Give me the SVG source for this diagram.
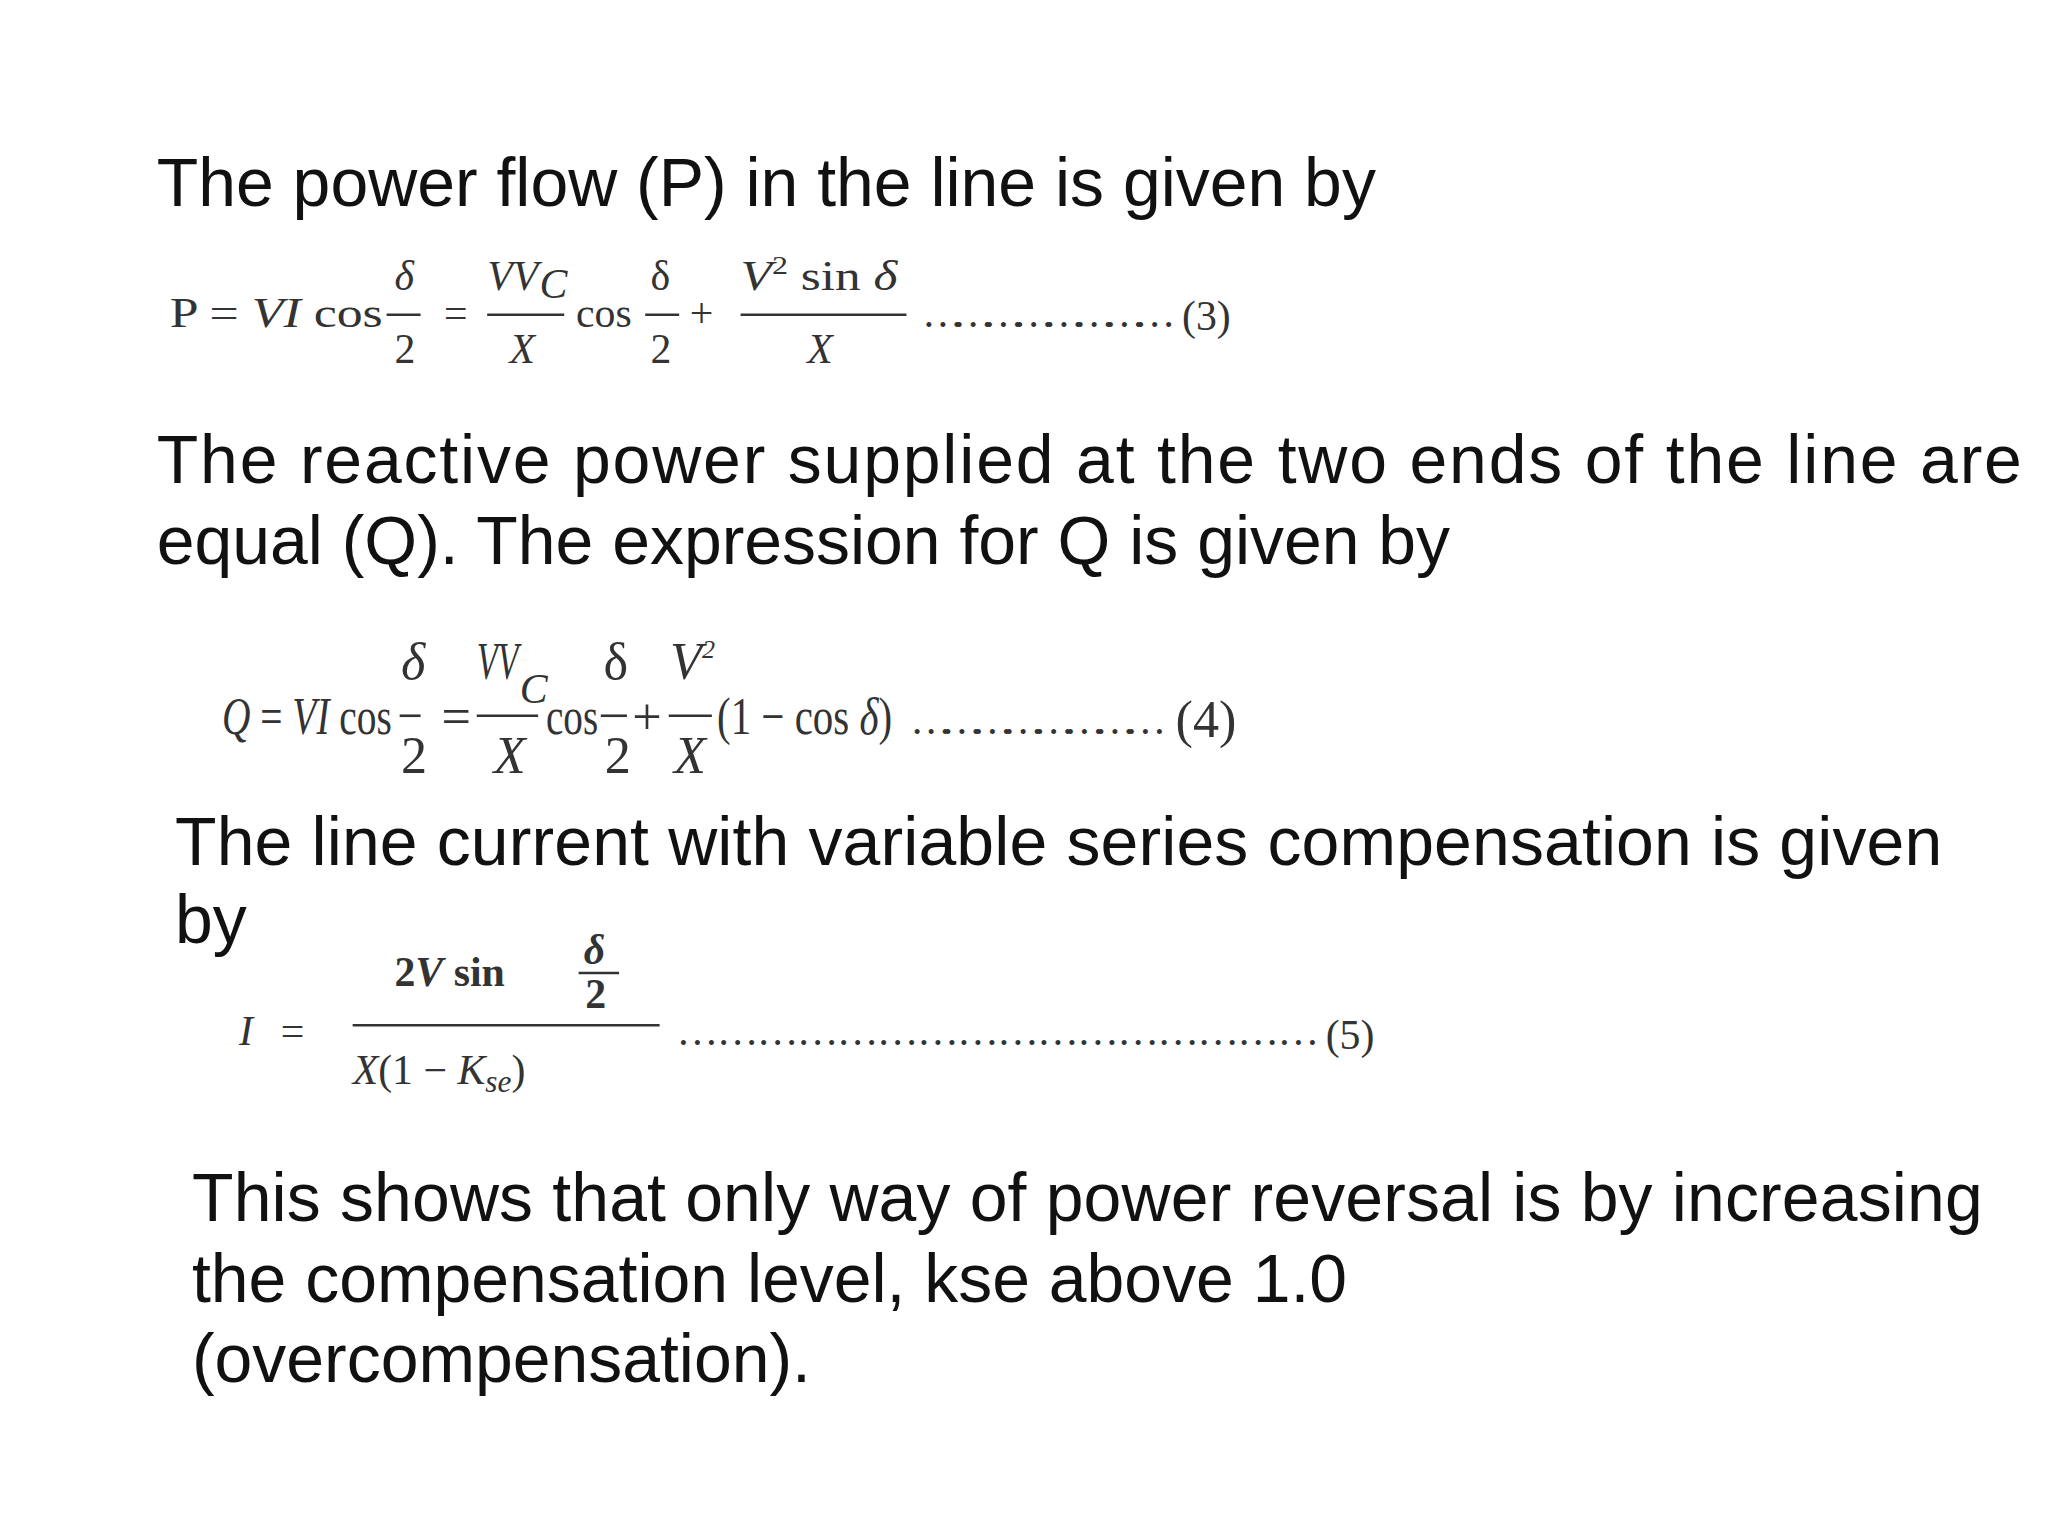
<svg xmlns="http://www.w3.org/2000/svg" width="2048" height="1536" viewBox="0 0 2048 1536">
<style>
.t{font-family:"Liberation Sans",Arial,sans-serif;font-size:52px;fill:#111}
.m{font-family:"Liberation Serif","DejaVu Serif",serif;font-size:32px;fill:#333}
.q{font-size:40px}
.i{font-style:italic}
.b{stroke:#333;stroke-width:2}
</style>
<rect width="2048" height="1536" fill="#fff"/>
<g transform="scale(1.30612)">
<g id="text1"><text class="t" x="120" y="158">The power flow (P) in the line is given by</text></g>
<g id="eq3">
<text class="m" x="130" y="250" textLength="163" lengthAdjust="spacingAndGlyphs">P = <tspan class="i">VI</tspan> cos</text>
<text class="m i" x="302" y="222">δ</text><line class="b" x1="296" y1="241" x2="322" y2="241"/><text class="m" x="302" y="278">2</text>
<text class="m" x="340" y="250">=</text>
<text class="m i" x="373" y="222">VV</text><text class="m i" x="413" y="228" font-size="22">C</text><line class="b" x1="373" y1="241" x2="432" y2="241"/><text class="m i" x="390" y="278">X</text>
<text class="m" x="441" y="250">cos</text>
<text class="m" x="498" y="222">δ</text><line class="b" x1="494" y1="241" x2="520" y2="241"/><text class="m" x="498" y="278">2</text>
<text class="m" x="528" y="250">+</text>
<text class="m" x="567" y="222" textLength="120" lengthAdjust="spacingAndGlyphs"><tspan class="i">V</tspan><tspan font-size="20" dy="-12">2</tspan><tspan dy="12"> sin </tspan><tspan class="i">δ</tspan></text><line class="b" x1="567" y1="241" x2="694" y2="241"/><text class="m i" x="618" y="278">X</text>
<text class="m" x="706" y="250" textLength="194" font-size="22">……………………</text>
<text class="m" x="905" y="253">(3)</text>
</g>
<g id="text2">
<text class="t" x="120" y="370" textLength="1428" lengthAdjust="spacing">The reactive power supplied at the two ends of the line are</text>
<text class="t" x="120" y="432">equal (Q). The expression for Q is given by</text>
</g>
<g id="eq4">
<text class="m q" x="170" y="562" textLength="130" lengthAdjust="spacingAndGlyphs"><tspan class="i">Q</tspan> = <tspan class="i">VI</tspan> cos</text>
<text class="m q i" x="307" y="520">δ</text><line class="b" x1="306" y1="548" x2="322" y2="548"/><text class="m q" x="307" y="592">2</text>
<text class="m q" x="338" y="562">=</text>
<text class="m q i" x="365" y="520" textLength="32" lengthAdjust="spacingAndGlyphs">VV</text><text class="m i" x="398" y="538" font-size="20">C</text><line class="b" x1="365" y1="548" x2="412" y2="548"/><text class="m q i" x="378" y="592">X</text>
<text class="m q" x="418" y="562" textLength="40" lengthAdjust="spacingAndGlyphs">cos</text>
<text class="m q" x="462" y="520">δ</text><line class="b" x1="460" y1="548" x2="480" y2="548"/><text class="m q" x="463" y="592">2</text>
<text class="m q" x="484" y="562">+</text>
<text class="m q i" x="513" y="520">V<tspan font-size="20" dy="-16">2</tspan></text><line class="b" x1="512" y1="548" x2="545" y2="548"/><text class="m q i" x="516" y="592">X</text>
<text class="m q" x="549" y="562" textLength="134" lengthAdjust="spacingAndGlyphs">(1 − cos <tspan class="i">δ</tspan>)</text>
<text class="m" x="697" y="562" textLength="196" font-size="20">……………………</text>
<text class="m q" x="900" y="564">(4)</text>
</g>
<g id="text3">
<text class="t" x="134" y="662" textLength="1353" lengthAdjust="spacing">The line current with variable series compensation is given</text>
<text class="t" x="134" y="722">by</text>
</g>
<g id="eq5">
<text class="m i" x="183" y="800" font-size="40">I</text><text class="m" x="215" y="800" font-size="40">=</text>
<line class="b" x1="270" y1="785" x2="505" y2="785" stroke-width="2.5"/>
<text class="m" x="302" y="755" font-size="40" font-weight="bold">2<tspan class="i">V</tspan> sin</text>
<text class="m i" x="447" y="738" font-size="30" font-weight="bold">δ</text><line class="b" x1="443" y1="745" x2="474" y2="745" stroke-width="2.5"/><text class="m" x="448" y="772" font-size="30" font-weight="bold">2</text>
<text class="m" x="270" y="830" font-size="40"><tspan class="i">X</tspan>(1 − <tspan class="i">K</tspan><tspan class="i" font-size="24" dy="6">se</tspan><tspan dy="-6">)</tspan></text>
<text class="m" x="518" y="800" textLength="492" font-size="22">…………………………………………</text>
<text class="m" x="1015" y="803" font-size="40">(5)</text>
</g>
<g id="text4">
<text class="t" x="147" y="935" textLength="1371" lengthAdjust="spacing">This shows that only way of power reversal is by increasing</text>
<text class="t" x="147" y="997">the compensation level, kse above 1.0</text>
<text class="t" x="147" y="1058">(overcompensation).</text>
</g>
</g>
</svg>
